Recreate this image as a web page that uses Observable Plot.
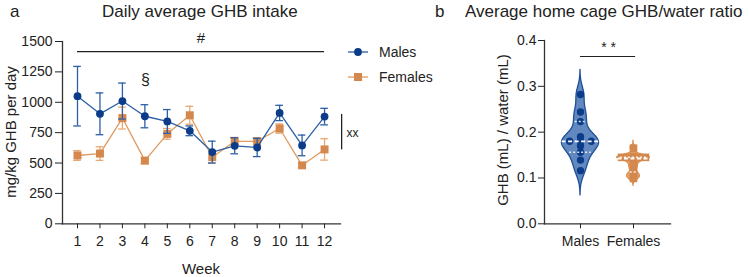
<!DOCTYPE html>
<html><head><meta charset="utf-8">
<script src="https://cdn.jsdelivr.net/npm/d3@7"></script>
<script src="https://cdn.jsdelivr.net/npm/@observablehq/plot@0.6"></script>
<style>
body{margin:0;background:#fff;font-family:"Liberation Sans",Arial,sans-serif;}
#wrap{position:relative;width:749px;height:277px;overflow:hidden;background:#fff;}
.abs{position:absolute;white-space:nowrap;color:#222;line-height:1;}
.rot{transform:translate(-50%,-50%) rotate(-90deg);}
#wrap svg{position:absolute;top:0;overflow:visible;}
</style></head><body><div id="wrap"></div>
<script>
// ---- Data: panel a ----
const weeks = [1,2,3,4,5,6,7,8,9,10,11,12];
const malesMean   = [1050, 905, 1010, 885, 842, 765, 590, 642, 628, 912, 645, 882];
const malesSem    = [245, 172, 148, 95, 98, 40, 90, 66, 75, 63, 85, 68];
const femalesMean = [562, 578, 870, 520, 740, 893, 548, 679, 679, 784, 481, 612];
const femalesSem  = [40, 56, 90, 25, 44, 74, 48, 32, 28, 38, 15, 88];
const yTicksA = [0, 250, 500, 750, 1000, 1250, 1500];
// ---- Data: panel b ----
const groups = ["Males", "Females"];
const malesRatio   = [0.282, 0.244, 0.223, 0.19, 0.18, 0.18, 0.18, 0.17, 0.156, 0.139, 0.116];
const femalesRatio = [0.165, 0.147, 0.145, 0.145, 0.145, 0.145, 0.14, 0.131, 0.122, 0.11, 0.104, 0.099];
const yTicksB = [0, 0.1, 0.2, 0.3, 0.4];

const FONT = "'Liberation Sans', Arial, sans-serif";
const M_LINE = "#2c5fa6", M_DOT = "#0b3b89";
const F_LINE = "#e09a5f", F_DOT = "#d4884d", F_ERR = "#e8a874";

const wrap = document.getElementById("wrap");
function addText(txt, left, top, size, extra) {
  const d = document.createElement("div");
  d.className = "abs" + (extra ? " " + extra : "");
  d.textContent = txt;
  d.style.left = left + "px"; d.style.top = top + "px"; d.style.fontSize = size + "px";
  wrap.appendChild(d);
  return d;
}

// ---------- Panel a ----------
const males = weeks.map((w, i) => ({week: w, mean: malesMean[i], sem: malesSem[i]}));
const females = weeks.map((w, i) => ({week: w, mean: femalesMean[i], sem: femalesSem[i]}));
const cap = 0.17;
function series(rows, line, dot, err, symbol, r) {
  return [
    Plot.ruleX(rows, {x: "week", y1: d => d.mean - d.sem, y2: d => d.mean + d.sem, stroke: err, strokeWidth: 1.3}),
    Plot.ruleY(rows, {y: d => d.mean + d.sem, x1: d => d.week - cap, x2: d => d.week + cap, stroke: err, strokeWidth: 1.3}),
    Plot.ruleY(rows, {y: d => d.mean - d.sem, x1: d => d.week - cap, x2: d => d.week + cap, stroke: err, strokeWidth: 1.3}),
    Plot.line(rows, {x: "week", y: "mean", stroke: line, strokeWidth: 1.3}),
    Plot.dot(rows, {x: "week", y: "mean", fill: dot, stroke: "none", symbol, r})
  ];
}
const plotA = Plot.plot({
  width: 430, height: 277,
  marginLeft: 62, marginRight: 90, marginTop: 41, marginBottom: 53.7,
  style: {fontSize: "14px", fontFamily: FONT, color: "#222", background: "transparent", overflow: "visible"},
  x: {domain: [0.332, 12.71], label: null},
  y: {domain: [0, 1500], label: null},
  marks: [
    Plot.axisY({ticks: yTicksA, tickFormat: d => String(d), tickSize: 7, tickPadding: 3, label: null}),
    Plot.axisX({ticks: weeks, tickSize: 5, tickPadding: 7, label: null, tickFormat: d => String(d)}),
    Plot.frame({anchor: "left", stroke: "#333", strokeWidth: 1.3}),
    Plot.frame({anchor: "bottom", stroke: "#333", strokeWidth: 1.3}),
    ...series(females, F_LINE, F_DOT, F_ERR, "square", 4.5),
    ...series(males, M_LINE, M_DOT, M_LINE, "circle", 3.9),
    Plot.ruleY([1417], {x1: 1, x2: 12, stroke: "#222", strokeWidth: 1.2}),
    Plot.text(["#"], {x: 6.5, y: 1528, fontSize: 15, fill: "#222"}),
    Plot.text(["§"], {x: 4.03, y: 1187, fontSize: 16, fill: "#222"}),
    Plot.ruleX([12.76], {y1: 608, y2: 900, stroke: "#222", strokeWidth: 1.3}),
    Plot.text(["xx"], {x: 12.76, y: 742, dx: 5, textAnchor: "start", fontSize: 12, fill: "#222"})
  ]
});
plotA.style.left = "0px";
wrap.appendChild(plotA);

// ---------- Panel b ----------
function violin(vals, bw, pos, halfW) {
  const lo = d3.min(vals) - 3 * bw, hi = d3.max(vals) + 3 * bw;
  const grid = d3.range(lo, hi + 1e-9, 0.0005);
  const dens = grid.map(v => d3.sum(vals, x => Math.exp(-0.5 * ((v - x) / bw) ** 2)));
  const m = d3.max(dens);
  const rows = grid.map((v, i) => ({v, x1: pos - halfW * dens[i] / m, x2: pos + halfW * dens[i] / m}));
  const widthAt = y => {
    const d = d3.sum(vals, x => Math.exp(-0.5 * ((y - x) / bw) ** 2));
    return halfW * d / m;
  };
  return {rows, widthAt};
}
function quart(vals, p) { // (n+1)p method
  const s = [...vals].sort(d3.ascending), n = s.length;
  const h = (n + 1) * p - 1, lo = Math.max(0, Math.floor(h)), hi = Math.min(n - 1, lo + 1);
  return s[lo] + (h - lo) * (s[hi] - s[lo]);
}
function swarm(vals, pos, spacing) {
  const counts = d3.rollup(vals, v => v.length, d => d);
  const seen = new Map();
  return vals.map(v => {
    const n = counts.get(v), i = seen.get(v) || 0; seen.set(v, i + 1);
    return {v, x: pos + (i - (n - 1) / 2) * spacing};
  });
}
const vM = violin(malesRatio, 0.018, 1, 0.35);
const vF = violin(femalesRatio, 0.0055, 2, 0.31);
function statLines(vals, v, pos) {
  const med = quart(vals, 0.5), q1 = quart(vals, 0.25), q3 = quart(vals, 0.75);
  const wm = v.widthAt(med), w1 = v.widthAt(q1), w3 = v.widthAt(q3);
  return [
    Plot.ruleY([med], {x1: pos - wm, x2: pos + wm, stroke: "#fff", strokeWidth: 1.8, strokeDasharray: "4,2.5"}),
    Plot.ruleY([q1, q3], {x1: (d) => pos - (d === q1 ? w1 : w3) * 0.8, x2: (d) => pos + (d === q1 ? w1 : w3) * 0.8, stroke: "#fff", strokeWidth: 1.5, strokeDasharray: "2,2", strokeOpacity: 0.85})
  ];
}
const plotB = Plot.plot({
  width: 319, height: 277,
  marginLeft: 114, marginRight: 79, marginTop: 40, marginBottom: 53.7,
  style: {fontSize: "14px", fontFamily: FONT, color: "#222", background: "transparent", overflow: "visible"},
  x: {domain: [0.321, 2.698], label: null},
  y: {domain: [0, 0.4], label: null},
  marks: [
    Plot.axisY({ticks: yTicksB, tickFormat: d3.format(".1f"), tickSize: 6, tickPadding: 2, label: null}),
    Plot.axisX({ticks: [1, 2], tickFormat: d => groups[d - 1], tickSize: 5, tickPadding: 7, label: null}),
    Plot.frame({anchor: "left", stroke: "#333", strokeWidth: 1.3}),
    Plot.frame({anchor: "bottom", stroke: "#333", strokeWidth: 1.3}),
    Plot.areaX(vM.rows, {y: "v", x1: "x1", x2: "x2", fill: "#6289bf", stroke: "#1d4f97", strokeWidth: 1.3}),
    Plot.areaX(vF.rows, {y: "v", x1: "x1", x2: "x2", fill: "#e6a56f", stroke: "#d9904f", strokeWidth: 1.2}),
    Plot.dot(swarm(malesRatio, 1, 0.205), {x: "x", y: "v", r: 3.7, fill: M_DOT}),
    Plot.dot(swarm(femalesRatio, 2, 0.15), {x: "x", y: "v", r: 4.3, symbol: "square", fill: F_DOT}),
    ...statLines(malesRatio, vM, 1),
    ...statLines(femalesRatio, vF, 2),
    Plot.ruleY([0.365], {x1: 1, x2: 2.04, stroke: "#222", strokeWidth: 1.1}),
    Plot.text(["* *"], {x: 1.53, y: 0.384, fontSize: 14, fill: "#222"})
  ]
});
plotB.style.left = "430px";
wrap.appendChild(plotB);

// ---------- Titles, labels, legend ----------
addText("a", 10, 3, 17);
addText("Daily average GHB intake", 102, 3, 17);
addText("b", 435, 3, 17);
addText("Average home cage GHB/water ratio", 465, 3, 17);
addText("mg/kg GHB per day", 10, 132, 15, "rot");
addText("GHB (mL) / water (mL)", 502, 130, 15, "rot");
const wk = addText("Week", 201, 261, 15); wk.style.transform = "translateX(-50%)";
// legend
const legend = [["Males", M_LINE, M_DOT, "circle", 52], ["Females", F_LINE, F_DOT, "square", 77]];
for (const [name, lc, dc, sym, cy] of legend) {
  const s = document.createElementNS("http://www.w3.org/2000/svg", "svg");
  s.setAttribute("width", 22); s.setAttribute("height", 12);
  s.style.left = "347px"; s.style.top = (cy - 6) + "px";
  s.innerHTML = `<line x1="1" x2="21" y1="6" y2="6" stroke="${lc}" stroke-width="1.3"/>` +
    (sym === "circle" ? `<circle cx="11" cy="6" r="3.9" fill="${dc}"/>` : `<rect x="7" y="2" width="8" height="8" fill="${dc}"/>`);
  wrap.appendChild(s);
  addText(name, 379, cy - 7.2, 14);
}
</script></body></html>
